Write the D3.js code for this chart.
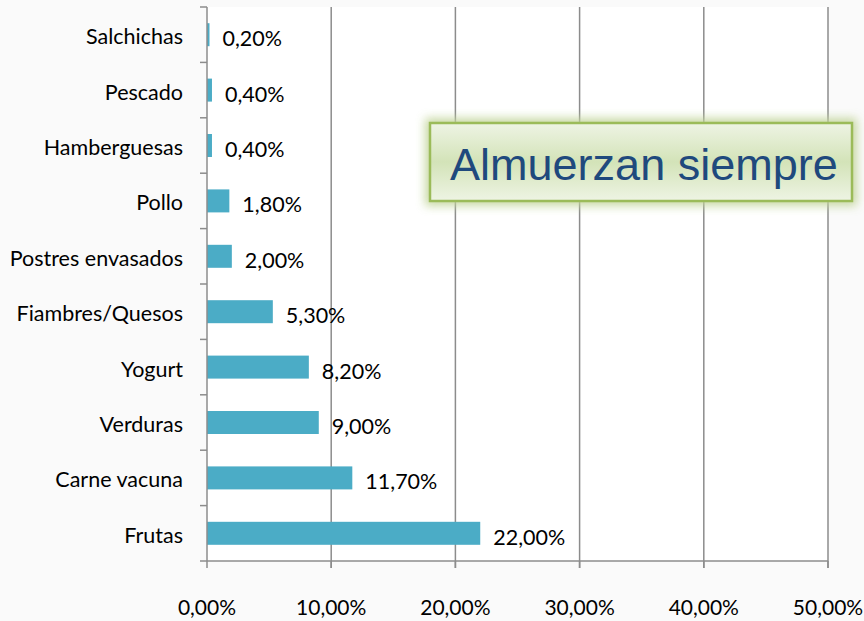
<!DOCTYPE html>
<html>
<head>
<meta charset="utf-8">
<script src="https://cdn.jsdelivr.net/npm/d3@7"></script>
<style>
  body { margin: 0; background: #fafafa; }
  svg { display: block; }
  text { font-family: Lato, "Open Sans", sans-serif; fill: #000; }
</style>
</head>
<body>
<svg id="chart" width="864" height="621"></svg>
<script>
// data, top to bottom as drawn
const categories = ['Salchichas', 'Pescado', 'Hamberguesas', 'Pollo', 'Postres envasados',
    'Fiambres/Quesos', 'Yogurt', 'Verduras', 'Carne vacuna', 'Frutas'];
const values = [0.2, 0.4, 0.4, 1.8, 2.0, 5.3, 8.2, 9.0, 11.7, 22.0];
const xTicks = [0, 10, 20, 30, 40, 50];
const title = 'Almuerzan siempre';

const margin = {top: 7, right: 36, bottom: 60, left: 207};
const width = 864, height = 621;
const svg = d3.select('#chart');

const fmt = function(v){ return v.toFixed(2).replace('.', ',') + '%'; };

const x = d3.scaleLinear()
    .domain([0, 50])
    .range([margin.left, width - margin.right]);
const y = d3.scaleBand()
    .domain(categories)
    .range([margin.top, height - margin.bottom])
    .paddingInner(0.585)
    .paddingOuter(0.2925);

// plot area
svg.append('rect')
    .attr('x', x(0)).attr('y', margin.top)
    .attr('width', x(50) - x(0))
    .attr('height', height - margin.bottom - margin.top)
    .attr('fill', '#fff');

// gridlines
svg.append('g').selectAll('line')
    .data(xTicks.slice(1))
    .enter().append('line')
    .attr('x1', d => x(d)).attr('x2', d => x(d))
    .attr('y1', margin.top).attr('y2', height - margin.bottom + 7)
    .attr('stroke', '#8c8c8c').attr('stroke-width', 1.5);

// bars
svg.append('g').selectAll('rect')
    .data(values)
    .enter().append('rect')
    .attr('x', x(0))
    .attr('y', (d, i) => y(categories[i]))
    .attr('width', d => x(d) - x(0))
    .attr('height', y.bandwidth())
    .attr('fill', '#4bacc6');

// data labels
svg.append('g').selectAll('text')
    .data(values)
    .enter().append('text')
    .attr('x', d => x(d) + 13)
    .attr('y', (d, i) => y(categories[i]) + y.bandwidth() / 2 + 4)
    .attr('dy', '0.35em')
    .style('font-size', '21.5px')
    .text(d => fmt(d));

// y axis: line, ticks at band edges, labels
const yAxis = svg.append('g');
yAxis.append('line')
    .attr('x1', x(0)).attr('x2', x(0))
    .attr('y1', margin.top).attr('y2', height - margin.bottom)
    .attr('stroke', '#8c8c8c').attr('stroke-width', 1.5);
const step = y.step();
yAxis.selectAll('line.tick')
    .data(d3.range(categories.length + 1))
    .enter().append('line')
    .attr('class', 'tick')
    .attr('x1', x(0) - 7).attr('x2', x(0))
    .attr('y1', i => margin.top + i * step)
    .attr('y2', i => margin.top + i * step)
    .attr('stroke', '#8c8c8c').attr('stroke-width', 1.5);
yAxis.selectAll('text')
    .data(categories)
    .enter().append('text')
    .attr('x', x(0) - 24)
    .attr('y', d => y(d) + y.bandwidth() / 2 + 2)
    .attr('dy', '0.35em')
    .attr('text-anchor', 'end')
    .style('font-size', '21.5px')
    .text(d => d);

// x axis
const xAxis = svg.append('g');
xAxis.append('line')
    .attr('x1', x(0)).attr('x2', x(50))
    .attr('y1', height - margin.bottom).attr('y2', height - margin.bottom)
    .attr('stroke', '#8c8c8c').attr('stroke-width', 1.5);
xAxis.selectAll('line.tick')
    .data(xTicks)
    .enter().append('line')
    .attr('class', 'tick')
    .attr('x1', d => x(d)).attr('x2', d => x(d))
    .attr('y1', height - margin.bottom).attr('y2', height - margin.bottom + 7)
    .attr('stroke', '#8c8c8c').attr('stroke-width', 1.5);
xAxis.selectAll('text')
    .data(xTicks)
    .enter().append('text')
    .attr('x', d => x(d))
    .attr('y', height - margin.bottom + 47)
    .attr('dy', '0.35em')
    .attr('text-anchor', 'middle')
    .style('font-size', '21px')
    .text(d => fmt(d));

// title box with green glow
const defs = svg.append('defs');
const grad = defs.append('linearGradient')
    .attr('id', 'boxFill').attr('x1', 0).attr('y1', 0).attr('x2', 0).attr('y2', 1);
grad.append('stop').attr('offset', '0%').attr('stop-color', '#eef4e4');
grad.append('stop').attr('offset', '50%').attr('stop-color', '#d3e3b8');
grad.append('stop').attr('offset', '100%').attr('stop-color', '#eef4e4');
const glow = defs.append('filter').attr('id', 'glow')
    .attr('x', '-10%').attr('y', '-30%').attr('width', '120%').attr('height', '160%');
glow.append('feGaussianBlur').attr('stdDeviation', 5);

const box = {x: 430, y: 123, w: 422, h: 78};
svg.append('rect')
    .attr('x', box.x - 5).attr('y', box.y - 5)
    .attr('width', box.w + 10).attr('height', box.h + 10)
    .attr('fill', '#c3d69b').attr('opacity', 0.9)
    .attr('filter', 'url(#glow)');
svg.append('rect')
    .attr('x', box.x).attr('y', box.y)
    .attr('width', box.w).attr('height', box.h)
    .attr('fill', 'url(#boxFill)')
    .attr('stroke', '#9bbb59').attr('stroke-width', 2.5);
const t = svg.append('text')
    .attr('x', 450)
    .attr('y', 180)
    .style('font-family', '"Liberation Sans", Arial, sans-serif')
    .style('font-size', '42px')
    .style('fill', '#1f497d')
    .text(title);
// fit the title to the box width seen in the picture
const tw = t.node().getComputedTextLength();
t.style('font-size', (42 * 388 / tw) + 'px');
</script>
</body>
</html>
